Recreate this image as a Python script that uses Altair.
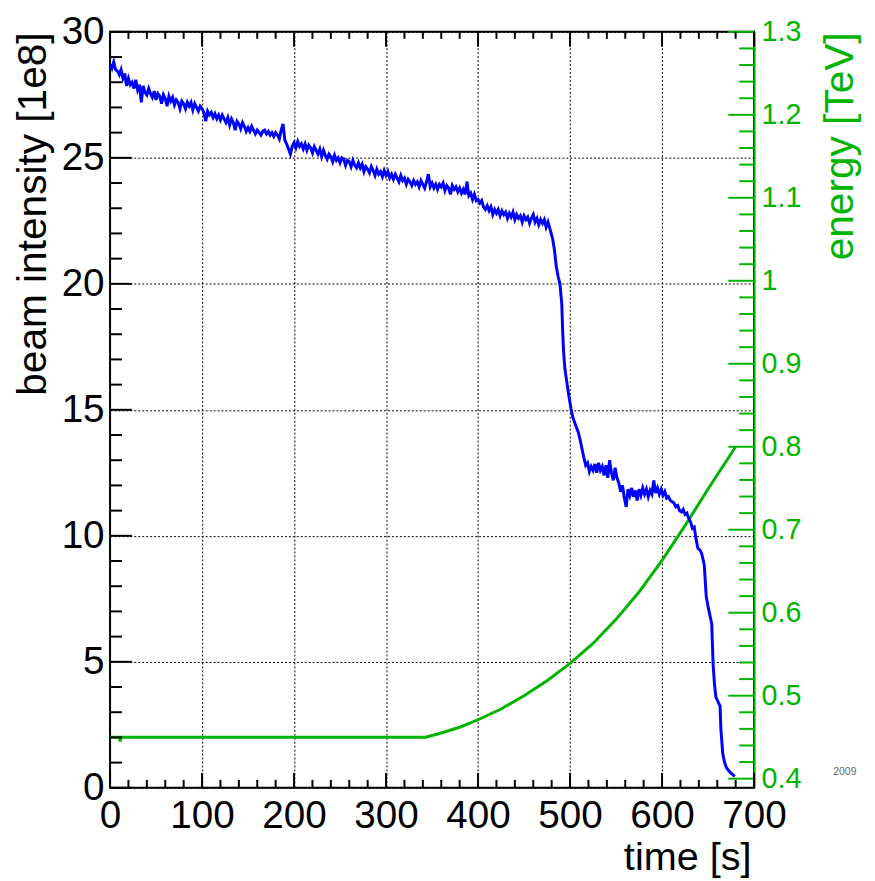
import altair as alt
import pandas as pd

# ---------------- data ----------------
# beam intensity, sampled every 2 s during the flat part, then the read-off points of the losses
t_int = list(range(0, 480, 2)) + [
    481, 483, 485, 487, 489, 491, 492, 493, 494.5, 496.5, 498.5, 501, 503, 505, 507, 509, 511, 513, 515,
    517, 519, 521, 523, 525, 527, 529, 531, 533, 535, 537, 539, 541, 543, 545, 547, 549, 551, 553, 555,
    557, 559, 561, 563, 565, 567, 569, 571, 573, 575, 577, 579, 581, 583, 585, 587, 589, 591, 593, 595,
    597, 599, 601, 603, 605, 607, 609, 611, 613, 615, 617, 619, 621, 623, 625, 627, 629, 631, 633, 635,
    637, 639, 641, 643, 645, 646, 648, 650, 652, 654, 655.5, 657, 658.5, 661, 663, 664, 666, 668, 670, 673,
    676, 679]
intensity = [
    28.7, 28.55, 28.8, 28.5, 28.45, 28.3, 28.5, 28.15, 28.35, 27.85,
    28.15, 27.9, 28.0, 27.75, 28.1, 27.7, 27.9, 27.2, 27.85, 27.6,
    27.5, 27.75, 27.55, 27.4, 27.65, 27.3, 27.55, 27.45, 27.15, 27.5,
    27.35, 27.05, 27.45, 27.25, 27.4, 27.1, 27.3, 27.2, 26.95, 27.25,
    27.15, 26.95, 27.2, 27.05, 27.2, 26.9, 27.15, 27.0, 26.85, 27.05,
    26.95, 26.8, 26.45, 26.85, 26.7, 26.8, 26.6, 26.75, 26.55, 26.7,
    26.5, 26.7, 26.55, 26.4, 26.6, 26.3, 26.55, 26.4, 26.1, 26.45,
    26.35, 26.15, 26.4, 26.25, 26.05, 26.2, 26.05, 26.25, 26.1, 25.95,
    26.1, 26.0, 25.9, 26.05, 26.1, 25.95, 26.05, 25.9, 26.0, 25.85,
    26.0, 25.9, 25.75, 26.1, 26.35, 25.7, 25.55, 25.35, 25.15, 25.45,
    25.6, 25.4, 25.65, 25.45, 25.55, 25.35, 25.55, 25.3, 25.5, 25.4,
    25.2, 25.45, 25.3, 25.15, 25.35, 25.05, 25.3, 25.1, 24.95, 25.15,
    25.05, 24.85, 25.1, 24.9, 25.0, 24.8, 25.0, 24.95, 24.7, 24.9,
    24.85, 24.65, 24.9, 24.7, 24.6, 24.8, 24.6, 24.75, 24.45, 24.65,
    24.55, 24.4, 24.65, 24.5, 24.3, 24.55, 24.35, 24.45, 24.25, 24.5,
    24.3, 24.45, 24.2, 24.35, 24.15, 24.35, 24.2, 24.05, 24.3, 24.1,
    24.2, 23.95, 24.15, 24.05, 23.9, 24.1, 23.95, 24.05, 23.85, 24.1,
    23.95, 23.8, 24.05, 24.35, 23.85, 24.0, 23.8, 23.95, 23.75, 23.95,
    23.85, 24.0, 23.7, 23.9, 23.8, 23.55, 23.9, 23.75, 23.85, 23.65,
    23.8, 23.6, 23.75, 23.55, 24.05, 23.5, 23.6, 23.35, 23.55, 23.3,
    23.35, 23.2, 23.3, 23.05, 22.95, 23.1, 22.9, 23.05, 22.75, 22.95,
    22.8, 22.95, 22.7, 22.9, 22.75, 22.85, 22.6, 22.8, 22.65, 22.85,
    22.55, 22.75, 22.6, 22.7, 22.45, 22.7, 22.55, 22.65, 22.4, 22.6,
    22.75, 22.45, 22.6, 22.35, 22.55, 22.4, 22.55, 22.25, 22.45, 22.2,
    21.8, 21.35, 20.7, 20.3, 20.0, 19.2, 18.1, 17.3, 16.6, 16.1, 15.6, 15.05, 14.7, 14.5, 14.3, 14.1, 13.8, 13.45, 13.1,
    12.8, 12.9, 12.55, 12.75, 12.6, 12.85, 12.5, 12.9, 12.6, 12.75, 12.4, 12.8, 12.3, 13.0, 12.5, 12.2, 12.7, 12.3, 12.1, 11.75,
    12.0, 11.5, 11.15, 11.85, 11.6, 11.9, 11.55, 11.8, 11.4, 11.85, 11.6, 11.9, 11.65, 11.85, 11.55, 11.8, 11.65, 12.2, 11.7, 11.9,
    11.65, 11.85, 11.6, 11.75, 11.5, 11.55, 11.4, 11.35, 11.3, 11.15, 11.2, 11.0, 10.95, 11.05, 10.85, 10.9, 10.7, 10.55, 10.3, 10.35,
    9.85, 9.5, 9.45, 9.3, 9.0, 8.8, 7.6, 7.2, 6.85, 6.5, 4.9, 4.1, 3.6, 3.4, 3.25, 2.3, 1.35, 1.0, 0.8, 0.65,
    0.55, 0.45]

t_en = [0, 10, 11, 12, 343, 360, 380, 400, 425, 450, 475, 500, 525, 550, 575, 600, 625, 650, 680]
energy = [0.45, 0.45, 0.445, 0.45, 0.45, 0.455, 0.462, 0.471, 0.484, 0.5, 0.518, 0.539, 0.563, 0.592,
          0.625, 0.663, 0.705, 0.749, 0.80]

x_major = [0, 100, 200, 300, 400, 500, 600, 700]
x_minor = [v for v in range(20, 700, 20) if v % 100 != 0]
y_major = [0, 5, 10, 15, 20, 25, 30]
y_minor = [v for v in range(1, 30) if v % 5 != 0]
e_major = [round(0.4 + 0.1 * i, 2) for i in range(10)]
e_minor = [round(0.4 + 0.02 * i, 2) for i in range(1, 45) if i % 5 != 0]

# ---------------- style ----------------
FONT = "Liberation Sans"
BLUE = "#0000ff"
GREEN = "#00b400"
W, H = 650, 763

int_df = pd.DataFrame({"time": t_int, "intensity": intensity})
en_df = pd.DataFrame({"time": t_en, "energy": energy})
xmaj_df = pd.DataFrame({"time": x_major})
xmin_df = pd.DataFrame({"time": x_minor})
ymaj_df = pd.DataFrame({"intensity": y_major})
ymin_df = pd.DataFrame({"intensity": y_minor})
emaj_df = pd.DataFrame({"energy": e_major})
emin_df = pd.DataFrame({"energy": e_minor})
note_df = pd.DataFrame({"label": ["2009"]})

x_scale = alt.Scale(domain=[0, 700], nice=False, zero=False)
y_scale = alt.Scale(domain=[0, 30], nice=False, zero=False)
e_scale = alt.Scale(domain=[0.389, 1.3], nice=False, zero=False)

x_axis = alt.Axis(
    values=x_major, title="time [s]", titleFont=FONT, titleFontSize=40, titleFontWeight="normal",
    titleColor="black", titleX=647, titleY=82, titleAlign="right", titleBaseline="alphabetic",
    labelFont=FONT, labelFontSize=39, labelColor="black", labelPadding=9, labelFlush=False,
    labelOverlap=False, ticks=False, domain=False,
    grid=True, gridColor="black", gridDash=[2, 2], gridWidth=1, gridOpacity=1,
)
y_axis = alt.Axis(
    values=y_major, orient="left", title="beam intensity [1e8]", titleFont=FONT, titleFontSize=41,
    titleFontWeight="normal", titleColor="black", titleAngle=270, titleX=-65, titleY=0,
    titleAlign="right", titleBaseline="alphabetic",
    labelFont=FONT, labelFontSize=39, labelColor="black", labelPadding=6, labelFlush=False,
    labelOverlap=False, ticks=False, domain=False,
    grid=True, gridColor="black", gridDash=[2, 2], gridWidth=1, gridOpacity=1,
)
e_axis = alt.Axis(
    values=e_major, orient="right", title="energy [TeV]", titleFont=FONT, titleFontSize=41,
    titleFontWeight="normal", titleColor=GREEN, titleAngle=270, titleX=99, titleY=0,
    titleAlign="right", titleBaseline="alphabetic",
    labelFont=FONT, labelFontSize=29, labelColor=GREEN, labelPadding=7, labelFlush=False,
    labelOverlap=False, labelExpr="format(datum.value, '.2~f')",
    ticks=False, domain=True, domainColor=GREEN, domainWidth=2, grid=False,
)

X = alt.X("time:Q", scale=x_scale, axis=x_axis)
Y = alt.Y("intensity:Q", scale=y_scale, axis=y_axis)
E = alt.Y("energy:Q", scale=e_scale, axis=e_axis)

blue = alt.Chart(int_df).mark_line(color=BLUE, strokeWidth=3, clip=True).encode(x=X, y=Y)

bot_major = alt.Chart(xmaj_df).mark_rule(color="black", strokeWidth=2).encode(
    x=X, y=alt.value(H), y2=alt.value(H - 15))
bot_minor = alt.Chart(xmin_df).mark_rule(color="black", strokeWidth=2).encode(
    x=X, y=alt.value(H), y2=alt.value(H - 8))
top_major = alt.Chart(xmaj_df).mark_rule(color="black", strokeWidth=2).encode(
    x=X, y=alt.value(0), y2=alt.value(15))
top_minor = alt.Chart(xmin_df).mark_rule(color="black", strokeWidth=2).encode(
    x=X, y=alt.value(0), y2=alt.value(7))
left_major = alt.Chart(ymaj_df).mark_rule(color="black", strokeWidth=2).encode(
    y=Y, x=alt.value(0), x2=alt.value(22))
left_minor = alt.Chart(ymin_df).mark_rule(color="black", strokeWidth=2).encode(
    y=Y, x=alt.value(0), x2=alt.value(12))
note = alt.Chart(note_df).mark_text(
    font=FONT, fontSize=10.5, color="#666666", align="left", baseline="middle"
).encode(x=alt.value(730), y=alt.value(747), text="label:N")

left_group = alt.layer(blue, bot_major, bot_minor, top_major, top_minor, left_major, left_minor, note)

green = alt.Chart(en_df).mark_line(color=GREEN, strokeWidth=3).encode(x=X, y=E)
right_major = alt.Chart(emaj_df).mark_rule(color=GREEN, strokeWidth=2).encode(
    y=E, x=alt.value(W), x2=alt.value(W - 26))
right_minor = alt.Chart(emin_df).mark_rule(color=GREEN, strokeWidth=2).encode(
    y=E, x=alt.value(W), x2=alt.value(W - 15))

right_group = alt.layer(green, right_major, right_minor)

chart = alt.layer(right_group, left_group).resolve_scale(y="independent").properties(
    width=W, height=H,
    padding={"left": 103, "top": 20, "right": 114, "bottom": 90},
    autosize=alt.AutoSizeParams(type="none"),
    background="white",
).configure_view(stroke="black", strokeWidth=2)

chart.save("out.html", embed_options={"renderer": "svg", "actions": False})
